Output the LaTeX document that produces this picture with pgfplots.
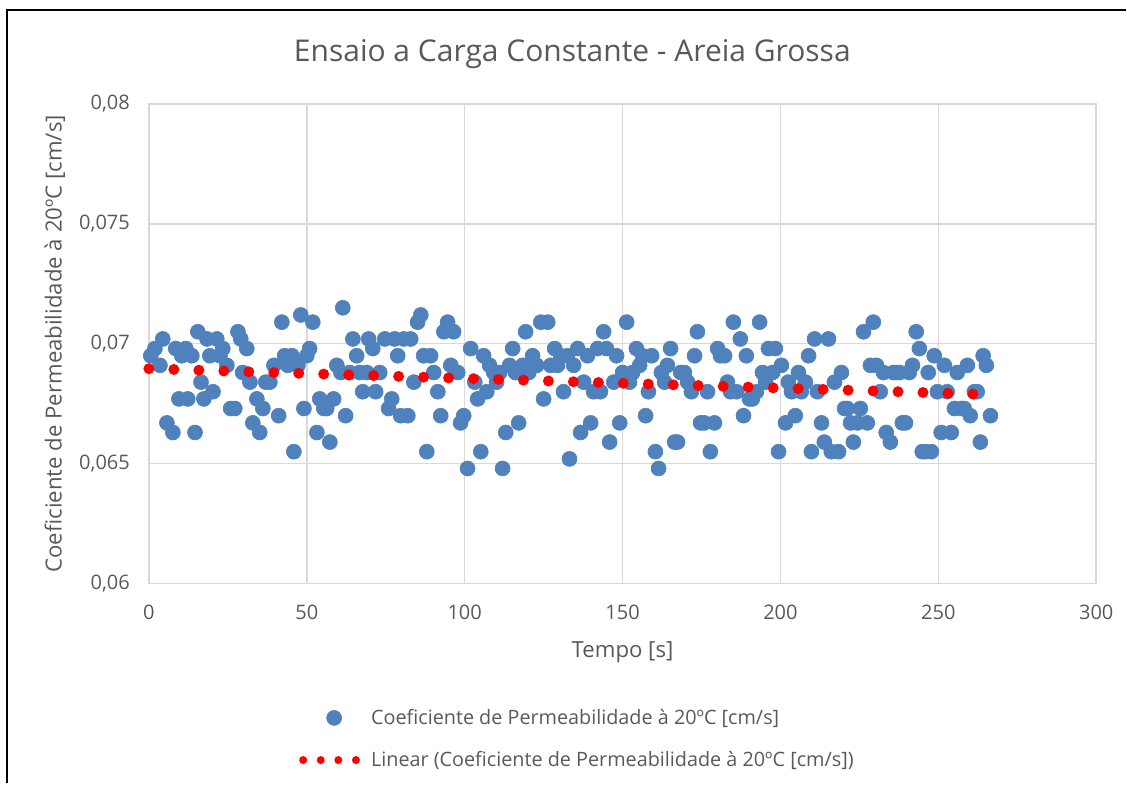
\documentclass[border=0pt]{standalone}
\usepackage{pgfplots}
\pgfplotsset{compat=1.18}
\usepackage{fontspec}
\setmainfont{Open Sans}
\definecolor{ptblue}{HTML}{4F81BD}
\definecolor{txtgray}{HTML}{595959}
\definecolor{gridgray}{HTML}{D9D9D9}
\begin{document}
\begin{tikzpicture}
\path (-74.5pt,-100pt) rectangle (489pt,292pt);
\draw[black, line width=0.8pt] (-71pt,-100pt) -- (-71pt,287pt) -- (489pt,287pt);
\begin{axis}[
 set layers,
 scale only axis, width=474pt, height=240pt,
 xmin=0, xmax=300, ymin=0.06, ymax=0.08,
 xtick={0,50,...,300}, ytick={0.06,0.065,0.07,0.075,0.08},
 scaled y ticks=false,
 grid=major, grid style={gridgray, line width=0.75pt},
 axis line style={gridgray, line width=0.75pt},
 major tick length=0pt,
 clip=false,
 tick label style={font=\fontsize{10}{12}\selectfont, color=txtgray},
 /pgf/number format/assume math mode=true,
 y tick label style={/pgf/number format/.cd, fixed, precision=3, use comma, /tikz/.cd, xshift=-6pt},
 x tick label style={yshift=-7pt},
 title={Ensaio a Carga Constante - Areia Grossa},
 title style={font=\fontsize{15}{18}\selectfont, color=txtgray, at={(axis description cs:0.447,1.108)}, anchor=center, yshift=-7pt},
 xlabel={Tempo [s]},
 ylabel={Coeficiente de Permeabilidade à 20ºC [cm/s]},
 label style={font=\fontsize{11.1}{13}\selectfont, color=txtgray},
 xlabel style={at={(axis description cs:0.5,-0.144)}, anchor=center},
 ylabel style={at={(axis description cs:-0.0992,0.5)}, anchor=center},
 legend cell align=left,
 legend style={at={(axis description cs:0.1582,-0.3240)}, anchor=west, draw=none, fill=none, inner sep=0pt,
   font=\fontsize{9.9}{12}\selectfont, text=txtgray, row sep=8pt, column sep=3.5pt},
]
\addplot[ptblue, only marks, mark=*, mark size=3.75pt, mark options={fill=ptblue, draw=ptblue, line width=0.3pt},
  legend image code/.code={\draw plot[mark=*, mark size=3.75pt, mark options={fill=ptblue, draw=ptblue, line width=0.3pt}] coordinates {(15.5pt,0pt)};}]
table[row sep=\\] {
x y\\
0.6 0.0695\\ 1.9 0.0698\\ 3.5 0.0691\\ 4.4 0.0702\\ 5.7 0.0667\\ 7.6 0.0663\\ 8.5 0.0698\\ 9.5 0.0677\\
10.4 0.0695\\ 11.7 0.0698\\ 12.3 0.0677\\ 13.6 0.0695\\ 14.6 0.0663\\ 15.5 0.0705\\ 16.5 0.0684\\ 17.4 0.0677\\
18.4 0.0702\\ 19.3 0.0695\\ 20.3 0.0680\\ 21.5 0.0702\\ 22.5 0.0695\\ 23.4 0.0698\\ 24.7 0.0691\\ 25.9 0.0673\\
27.2 0.0673\\ 28.2 0.0705\\ 29.1 0.0702\\ 29.7 0.0688\\ 31.0 0.0698\\ 32.0 0.0684\\ 32.9 0.0667\\ 34.2 0.0677\\
35.1 0.0663\\ 36.1 0.0673\\ 37.0 0.0684\\ 38.3 0.0684\\ 39.6 0.0691\\ 41.1 0.0670\\ 42.1 0.0709\\ 43.0 0.0695\\
44.0 0.0691\\ 45.3 0.0695\\ 45.9 0.0655\\ 47.2 0.0691\\ 48.1 0.0712\\ 49.1 0.0673\\ 50.0 0.0695\\ 50.9 0.0698\\
51.9 0.0709\\ 53.2 0.0663\\ 54.1 0.0677\\ 55.4 0.0673\\ 56.3 0.0673\\ 57.3 0.0659\\ 58.5 0.0677\\ 59.5 0.0691\\
60.8 0.0688\\ 61.4 0.0715\\ 62.3 0.0670\\ 63.6 0.0688\\ 64.6 0.0702\\ 65.8 0.0695\\ 66.8 0.0688\\ 67.7 0.0680\\
69.0 0.0688\\ 69.6 0.0702\\ 70.9 0.0698\\ 71.8 0.0680\\ 73.1 0.0688\\ 74.7 0.0702\\ 75.9 0.0673\\ 76.9 0.0677\\
77.8 0.0702\\ 78.8 0.0695\\ 79.7 0.0670\\ 80.7 0.0702\\ 82.0 0.0670\\ 82.9 0.0702\\ 83.9 0.0684\\ 85.1 0.0709\\
86.1 0.0712\\ 87.0 0.0695\\ 88.0 0.0655\\ 89.2 0.0695\\ 90.2 0.0688\\ 91.5 0.0680\\ 92.4 0.0670\\ 93.4 0.0705\\
94.6 0.0709\\ 95.6 0.0691\\ 96.5 0.0705\\ 97.8 0.0688\\ 98.7 0.0667\\ 99.7 0.0670\\ 100.9 0.0648\\ 101.9 0.0698\\
103.2 0.0684\\ 104.1 0.0677\\ 105.1 0.0655\\ 106.0 0.0695\\ 107.0 0.0680\\ 107.9 0.0691\\ 109.2 0.0688\\ 110.1 0.0684\\
111.1 0.0688\\ 112.0 0.0648\\ 113.0 0.0663\\ 114.2 0.0691\\ 115.2 0.0698\\ 116.1 0.0688\\ 117.1 0.0667\\ 118.4 0.0691\\
119.3 0.0705\\ 120.3 0.0688\\ 121.5 0.0695\\ 122.8 0.0691\\ 124.1 0.0709\\ 125.0 0.0677\\ 126.3 0.0709\\ 127.2 0.0691\\
128.5 0.0698\\ 129.4 0.0691\\ 130.4 0.0695\\ 131.3 0.0680\\ 132.6 0.0695\\ 133.2 0.0652\\ 134.5 0.0691\\ 135.8 0.0698\\
136.7 0.0663\\ 137.7 0.0684\\ 138.9 0.0695\\ 139.9 0.0667\\ 140.8 0.0680\\ 142.1 0.0698\\ 143.0 0.0680\\ 144.0 0.0705\\
144.9 0.0698\\ 145.9 0.0659\\ 147.2 0.0684\\ 148.1 0.0695\\ 149.1 0.0667\\ 150.0 0.0688\\ 151.3 0.0709\\ 152.2 0.0684\\
153.2 0.0688\\ 154.4 0.0698\\ 155.4 0.0691\\ 156.3 0.0695\\ 157.3 0.0670\\ 158.2 0.0680\\ 159.2 0.0695\\ 160.4 0.0655\\
161.4 0.0648\\ 162.3 0.0688\\ 163.3 0.0684\\ 164.2 0.0691\\ 165.2 0.0698\\ 166.5 0.0659\\ 167.4 0.0659\\ 168.4 0.0688\\
169.6 0.0688\\ 170.6 0.0684\\ 171.8 0.0680\\ 172.8 0.0695\\ 173.7 0.0705\\ 174.7 0.0667\\ 175.9 0.0667\\ 176.9 0.0680\\
177.8 0.0655\\ 179.1 0.0667\\ 180.1 0.0698\\ 181.0 0.0695\\ 182.3 0.0695\\ 183.2 0.0684\\ 184.2 0.0680\\ 185.1 0.0709\\
186.1 0.0680\\ 187.3 0.0702\\ 188.3 0.0670\\ 189.2 0.0695\\ 190.2 0.0677\\ 191.1 0.0677\\ 192.4 0.0680\\ 193.4 0.0709\\
194.3 0.0688\\ 195.3 0.0684\\ 196.2 0.0698\\ 197.5 0.0688\\ 198.4 0.0698\\ 199.4 0.0655\\ 200.3 0.0691\\ 201.6 0.0667\\
202.5 0.0684\\ 203.5 0.0680\\ 204.7 0.0670\\ 205.7 0.0688\\ 206.6 0.0680\\ 207.9 0.0684\\ 208.9 0.0695\\ 209.8 0.0655\\
210.8 0.0702\\ 211.7 0.0680\\ 213.0 0.0667\\ 213.9 0.0659\\ 215.2 0.0702\\ 216.1 0.0655\\ 217.1 0.0684\\ 218.4 0.0655\\
219.3 0.0688\\ 220.3 0.0673\\ 221.2 0.0673\\ 222.2 0.0667\\ 223.1 0.0659\\ 224.4 0.0667\\ 225.3 0.0673\\ 226.3 0.0705\\
227.5 0.0667\\ 228.5 0.0691\\ 229.4 0.0709\\ 230.4 0.0691\\ 231.6 0.0680\\ 232.6 0.0688\\ 233.5 0.0663\\ 234.8 0.0659\\
235.8 0.0688\\ 236.7 0.0688\\ 237.7 0.0688\\ 238.6 0.0667\\ 239.6 0.0667\\ 240.8 0.0688\\ 241.8 0.0691\\ 243.0 0.0705\\
244.0 0.0698\\ 244.9 0.0655\\ 245.9 0.0655\\ 246.8 0.0688\\ 247.8 0.0655\\ 248.7 0.0695\\ 249.7 0.0680\\ 250.9 0.0663\\
251.9 0.0691\\ 252.8 0.0680\\ 254.1 0.0663\\ 255.1 0.0673\\ 256.0 0.0688\\ 257.3 0.0673\\ 258.2 0.0673\\ 259.2 0.0691\\
260.1 0.0670\\ 261.4 0.0680\\ 262.3 0.0680\\ 263.3 0.0659\\ 264.2 0.0695\\ 265.2 0.0691\\ 266.5 0.0670\\
};
\addlegendentry{Coeficiente de Permeabilidade à 20ºC [cm/s]}
\addplot[red, line width=5.5pt, line cap=round, dash pattern=on 0pt off 12.5pt, on layer=axis foreground,
  legend image code/.code={\draw[red, line width=4pt, line cap=round, dash pattern=on 0pt off 8.8pt] (0pt,0pt) -- (26.5pt,0pt);}]
coordinates {(0,0.06896) (267,0.06788)};
\addlegendentry{Linear (Coeficiente de Permeabilidade à 20ºC [cm/s])}
\end{axis}
\end{tikzpicture}
\end{document}
